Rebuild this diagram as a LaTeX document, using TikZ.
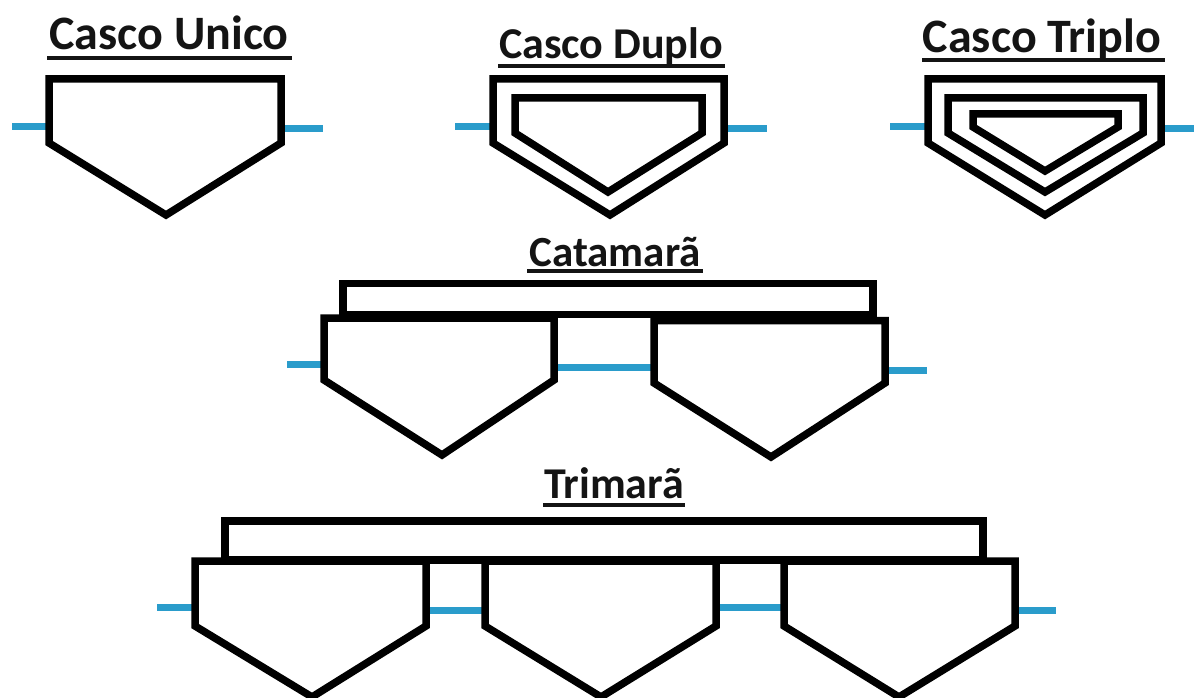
\documentclass[tikz,border=0pt]{standalone}
\usepackage{fontspec}
\setmainfont{Carlito}
\definecolor{waterblue}{HTML}{2A9CCB}
\tikzset{
  x=1pt,y=-1pt,
  hull/.style={draw=black,line width=7.5pt,miter limit=10,fill=white},
  water/.style={draw=waterblue,line width=7pt},
  rulebar/.style={draw=black!92,line width=4.5pt},
  title/.style={inner sep=0pt,anchor=base,text=black!92}
}
\newcommand{\hullshape}[6]{% xl xr top shoulder apexx apexy
  \draw[hull] (#1,#3) -- (#2,#3) -- (#2,#4) -- (#5,#6) -- (#1,#4) -- cycle;}
\begin{document}
\begin{tikzpicture}
\useasboundingbox (0,0) rectangle (1194,698);
\fill[white] (0,0) rectangle (1194,698);
% water lines
\foreach \a/\b/\y in {12/47/127,283/323/129,455/491/127,726/767/129,890/926/127,1163/1194/129,
  287/322/364,556/652/367,887/927/370,157/193/607,428/483/610,718/782/607,1017/1056/610}
  \draw[water] (\a,\y) -- (\b,\y);
% single, double, triple hull
\hullshape{49}{281}{79}{143}{166}{215}
\hullshape{493}{724}{79}{143}{610}{215}
\hullshape{515}{702}{98}{133}{608}{192}
\hullshape{928}{1161}{79}{143}{1045}{215}
\hullshape{948}{1143}{98}{133}{1045}{192}
\hullshape{973}{1118}{114}{127}{1045}{171}
% catamaran
\draw[hull] (343,283.5) rectangle (873,314.5);
\hullshape{324}{554}{318}{380}{442}{455}
\hullshape{654}{885}{320.5}{383}{771}{457}
% trimaran
\draw[hull] (225,521) rectangle (983,560);
\hullshape{195}{426}{561}{626}{312}{697}
\hullshape{485}{716}{561}{626}{601}{697}
\hullshape{784}{1015}{561}{626}{899}{697}
% titles
\node[title,font=\bfseries\fontsize{48}{48}\selectfont] (t1) at (169,50) {Casco Unico};
\node[title,font=\bfseries\fontsize{44}{44}\selectfont] (t2) at (611,58.5) {Casco Duplo};
\node[title,font=\bfseries\fontsize{48}{48}\selectfont] (t3) at (1042,53) {Casco Triplo};
\node[title,font=\bfseries\fontsize{43}{43}\selectfont] (t4) at (615,266) {Catamarã};
\node[title,font=\bfseries\fontsize{44}{44}\selectfont] (t5) at (614,498) {Trimarã};
\draw[rulebar] (47,58) -- (292,58);
\draw[rulebar] (498,66) -- (725,66);
\draw[rulebar] (922,60) -- (1165,60);
\draw[rulebar] (527,271) -- (703,271);
\draw[rulebar] (543,505) -- (685,505);
\end{tikzpicture}
\end{document}
